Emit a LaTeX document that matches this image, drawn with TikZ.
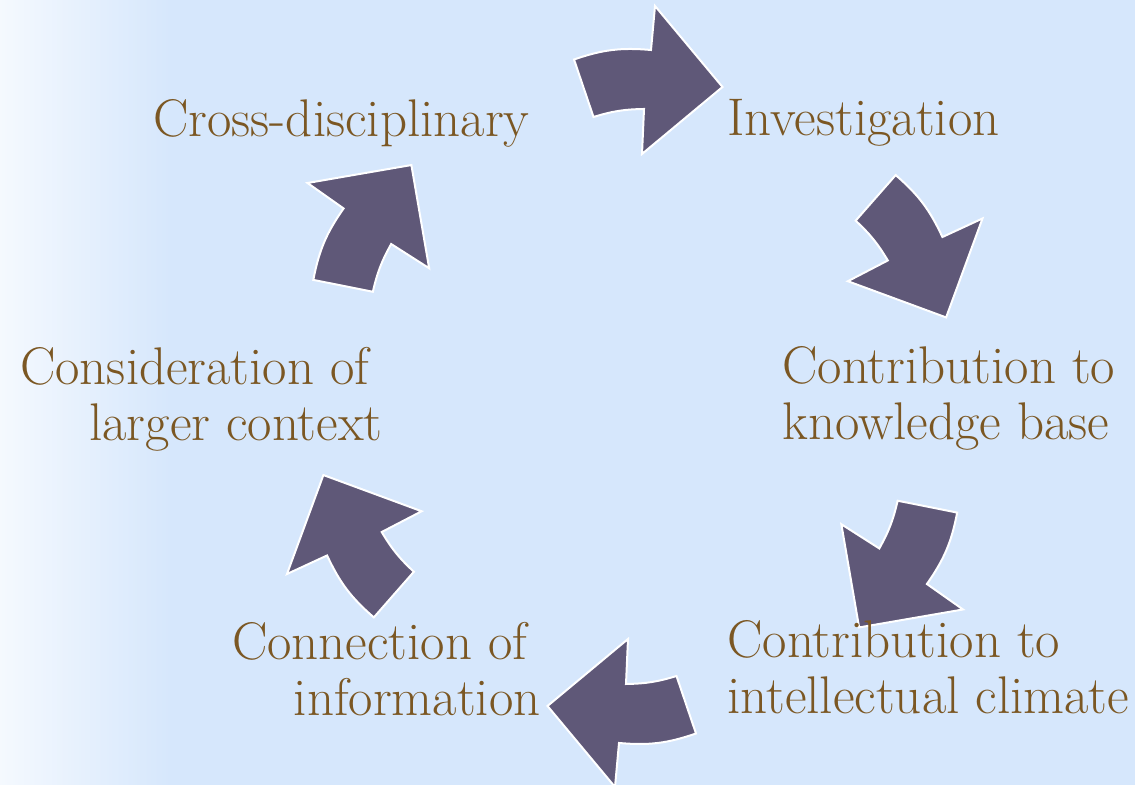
\documentclass[tikz,border=0pt]{standalone}
\usepackage{tikz}

\definecolor{bgblue}{HTML}{D6E7FC}
\definecolor{arrowpurple}{HTML}{5F5878}
\definecolor{itembrown}{HTML}{7B5723}

\begin{document}
\begin{tikzpicture}[x=0.5pt, y=0.5pt,
    itemtext/.style={text=itembrown, inner sep=0pt, font=\fontsize{26.5}{28}\selectfont},
    cyclearrow/.style={fill=arrowpurple, draw=white, line width=1pt, line join=miter}]
    % background
    \fill[bgblue] (0,0) rectangle (1135,785);
    \shade[left color=white!75!bgblue, right color=bgblue] (0,0) rectangle (170,785);
    \useasboundingbox (0,0) rectangle (1135,785);

    % curved block arrows round the cycle
    \foreach \x/\y/\a in {584/697/0, 876/587/-60, 927.5/278/-120, 686/80/180, 393.5/190.5/120, 343/499.5/60} {
        \draw[cyclearrow, shift={(\x,\y)}, rotate=\a]
            (-10,28.5) to[bend left=12] (67,38) -- (71,82) -- (138.5,1)
            -- (58,-66) -- (60,-21) to[bend right=8] (9.5,-29) -- cycle;
    }

    % the six steps (base = last line)
    \node[itemtext, anchor=base west] (cross) at (153,648) {Cross-disciplinary};
    \node[itemtext, anchor=base west] (invest) at (727,649) {Investigation};
    \node[itemtext, anchor=base west, align=left] (knowbase) at (782,345) {Contribution to\\knowledge base};
    \node[itemtext, anchor=base west, align=left] (climate) at (727,71) {Contribution to\\intellectual climate};
    \node[itemtext, anchor=base east, align=right] (connect) at (541,69) {Connection of\hspace*{.25em}\\information};
    \node[itemtext, anchor=base east, align=right] (context) at (383,344) {Consideration of\hspace*{.25em}\\larger context};
\end{tikzpicture}
\end{document}
